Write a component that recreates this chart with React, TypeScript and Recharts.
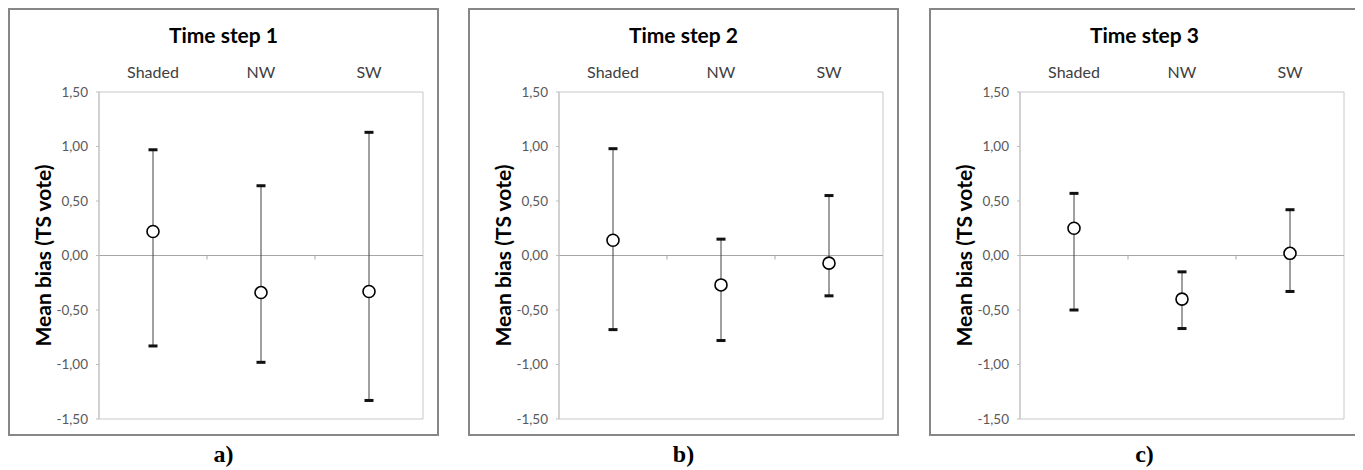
import React from 'react';
import { ComposedChart, Line, XAxis, YAxis, CartesianGrid, ErrorBar, ReferenceLine } from 'recharts';

const categories = ['Shaded', 'NW', 'SW'];
const yTicks = [-1.5, -1, -0.5, 0, 0.5, 1, 1.5];

// Time step 1
const step1Mean = [0.22, -0.34, -0.33];
const step1Upper = [0.97, 0.64, 1.13];
const step1Lower = [-0.83, -0.98, -1.33];

// Time step 2
const step2Mean = [0.14, -0.27, -0.07];
const step2Upper = [0.98, 0.15, 0.55];
const step2Lower = [-0.68, -0.78, -0.37];

// Time step 3
const step3Mean = [0.25, -0.40, 0.02];
const step3Upper = [0.57, -0.15, 0.42];
const step3Lower = [-0.50, -0.67, -0.33];

const FONT = 'Lato, "Open Sans", sans-serif';
const fmt = (v: number) => v.toFixed(2).replace('.', ',');

interface PanelProps {
  title: string;
  caption: string;
  mean: number[];
  upper: number[];
  lower: number[];
  left: number;
}

const OpenCircle = (p: any) => (
  <circle key={`c-${p.index}`} cx={p.cx} cy={p.cy} r={6} fill="#fff" stroke="#000" strokeWidth={1.6} />
);

const Cap = (p: any) => (
  <rect key={`k-${p.index}`} x={p.cx - 4.5} y={p.cy - 1.5} width={9} height={3} fill="#111" />
);

// zero line with small tick marks between the categories
const ZeroLine = (p: any) => {
  const { x1, x2, y1 } = p;
  if (x1 == null) return <g />;
  const step = (x2 - x1) / categories.length;
  const ticks = categories.slice(1).map((_, i) => x1 + step * (i + 1));
  return (
    <g>
      <line x1={x1} x2={x2} y1={y1} y2={y1} stroke="#a6a6a6" strokeWidth={1} />
      {ticks.map((x) => (
        <line key={x} x1={x} x2={x} y1={y1} y2={y1 + 4} stroke="#a6a6a6" strokeWidth={1} />
      ))}
    </g>
  );
};

const Panel: React.FC<PanelProps> = ({ title, caption, mean, upper, lower, left }) => {
  const data = categories.map((cat, i) => ({
    cat,
    mean: mean[i],
    hi: upper[i],
    lo: lower[i],
    err: [mean[i] - lower[i], upper[i] - mean[i]],
  }));

  return (
    <>
      <div
        style={{
          position: 'absolute',
          left,
          top: 0,
          width: 431,
          height: 428,
          border: '2px solid #878787',
          boxSizing: 'border-box',
          background: '#fff',
        }}
      >
        <div
          style={{
            position: 'absolute',
            left: 0,
            right: 0,
            top: 13,
            textAlign: 'center',
            fontFamily: FONT,
            fontWeight: 700,
            fontSize: 21,
            lineHeight: '24px',
            color: '#000',
          }}
        >
          {title}
        </div>
        <ComposedChart width={427} height={424} data={data} margin={{ top: 52, right: 14, bottom: 15, left: 10 }}>
          <CartesianGrid
            stroke="#c8c8c8"
            horizontalCoordinatesGenerator={({ offset }: any) => [offset.top, offset.top + offset.height]}
            verticalCoordinatesGenerator={({ offset }: any) => [offset.left, offset.left + offset.width]}
          />
          <XAxis
            dataKey="cat"
            orientation="top"
            scale="band"
            height={30}
            axisLine={false}
            tickLine={false}
            tickMargin={8}
            tick={{ fill: '#404040', fontSize: 16, fontFamily: FONT }}
          />
          <YAxis
            domain={[-1.5, 1.5]}
            ticks={yTicks}
            width={79}
            tickFormatter={fmt}
            tickSize={3}
            tickMargin={8}
            axisLine={{ stroke: '#bfbfbf' }}
            tickLine={{ stroke: '#bfbfbf' }}
            tick={{ fill: '#595959', fontSize: 13.5, fontFamily: FONT }}
            label={{
              value: 'Mean bias (TS vote)',
              angle: -90,
              position: 'insideLeft',
              offset: 24,
              style: { textAnchor: 'middle', fontFamily: FONT, fontWeight: 700, fontSize: 21, fill: '#000' },
            }}
          />
          <ReferenceLine y={0} shape={ZeroLine} />
          <Line dataKey="hi" stroke="none" dot={Cap} activeDot={false} isAnimationActive={false} />
          <Line dataKey="lo" stroke="none" dot={Cap} activeDot={false} isAnimationActive={false} />
          <Line dataKey="mean" stroke="none" dot={OpenCircle} activeDot={false} isAnimationActive={false}>
            <ErrorBar dataKey="err" direction="y" width={0} stroke="#404040" strokeWidth={1} />
          </Line>
        </ComposedChart>
      </div>
      <div
        style={{
          position: 'absolute',
          left,
          top: 432,
          width: 431,
          textAlign: 'center',
          fontFamily: '"Liberation Serif", "Times New Roman", serif',
          fontWeight: 700,
          fontSize: 24,
          lineHeight: '28px',
          color: '#000',
        }}
      >
        {caption}
      </div>
    </>
  );
};

export default function App() {
  return (
    <div style={{ position: 'relative', width: 1352, height: 462 }}>
      <Panel title="Time step 1" caption="a)" mean={step1Mean} upper={step1Upper} lower={step1Lower} left={0} />
      <Panel title="Time step 2" caption="b)" mean={step2Mean} upper={step2Upper} lower={step2Lower} left={460} />
      <Panel title="Time step 3" caption="c)" mean={step3Mean} upper={step3Upper} lower={step3Lower} left={921} />
    </div>
  );
}
